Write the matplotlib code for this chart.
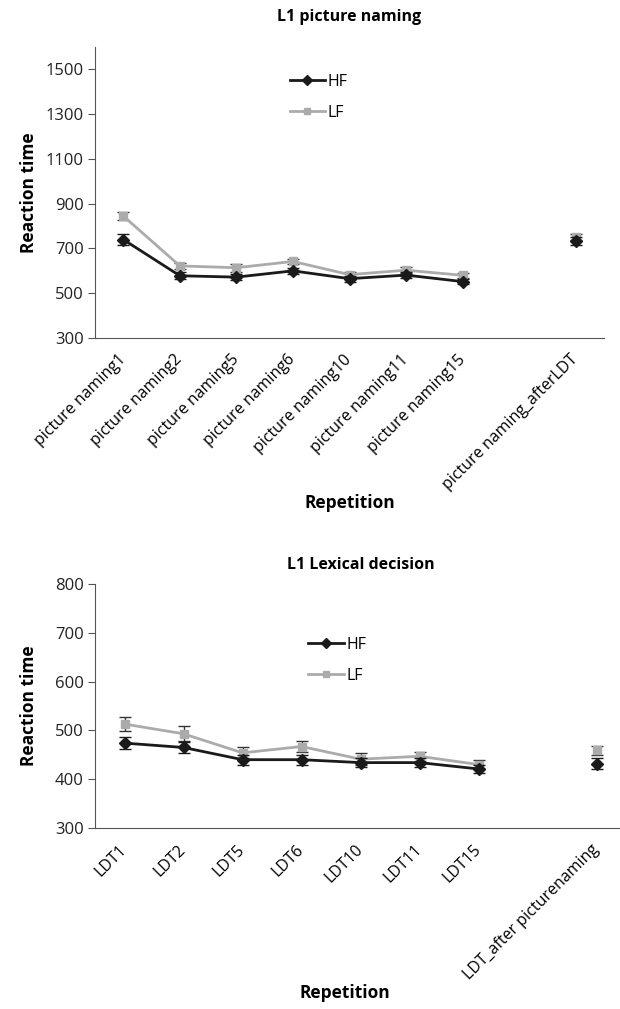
import matplotlib.pyplot as plt
import matplotlib.transforms as mtransforms
from matplotlib.lines import Line2D
import numpy as np

plt.rcParams['font.family'] = ['Open Sans', 'DejaVu Sans']

# data
pn_labels = ['picture naming1', 'picture naming2', 'picture naming5', 'picture naming6',
             'picture naming10', 'picture naming11', 'picture naming15', '',
             'picture naming_afterLDT']
pn_hf = [740, 578, 572, 600, 565, 581, 552, np.nan, 733]
pn_hf_err = [24, 16, 15, 12, 13, 14, 12, np.nan, 16]
pn_lf = [845, 622, 614, 642, 583, 603, 580, np.nan, 752]
pn_lf_err = [18, 14, 18, 12, 12, 12, 12, np.nan, 14]

ldt_labels = ['LDT1', 'LDT2', 'LDT5', 'LDT6', 'LDT10', 'LDT11', 'LDT15', '',
              'LDT_after picturenaming']
ldt_hf = [474, 465, 440, 440, 434, 434, 421, np.nan, 432]
ldt_hf_err = [12, 11, 10, 10, 9, 9, 9, np.nan, 11]
ldt_lf = [513, 493, 454, 467, 441, 447, 430, np.nan, 459]
ldt_lf_err = [14, 15, 11, 12, 12, 9, 9, np.nan, 9]

HF_COL = '#1a1a1a'
LF_COL = '#ababab'

W, H = 620, 1009
fig = plt.figure(figsize=(W / 100, H / 100), dpi=100)

def px_axes(left, top, right, bottom):
    return fig.add_axes([left / W, 1 - bottom / H, (right - left) / W, (bottom - top) / H])

def draw(ax, labels, hf, hf_err, lf, lf_err, ylim, yticks, title, title_pad, leg_anchor):
    x = np.arange(len(labels))
    ax.errorbar(x, hf, yerr=hf_err, color=HF_COL, marker='D', markersize=6,
                lw=2, ecolor=HF_COL, elinewidth=1, capsize=4, capthick=1, zorder=3)
    ax.errorbar(x, lf, yerr=lf_err, color=LF_COL, marker='s', markersize=6,
                lw=2, ecolor='#333333', elinewidth=1, capsize=4, capthick=1, zorder=2)
    ax.set_xlim(-0.5, len(labels) - 0.5)
    ax.set_ylim(*ylim)
    ax.set_yticks(yticks)
    ax.set_xticks(x)
    ax.set_xticklabels(labels, rotation=45, ha='right', va='center',
                       rotation_mode='anchor', fontsize=11.5)
    off = mtransforms.ScaledTranslation(0.05, 0, fig.dpi_scale_trans)
    for t in ax.get_xticklabels():
        t.set_transform(t.get_transform() + off)
    ax.tick_params(axis='x', length=0, pad=14)
    ax.tick_params(axis='y', length=5, direction='out', labelsize=12, pad=3,
                   color='#555555', labelcolor='#222222')
    for s in ['top', 'right']:
        ax.spines[s].set_visible(False)
    for s in ['left', 'bottom']:
        ax.spines[s].set_color('#555555')
    ax.set_title(title, fontsize=11.5, fontweight='bold', pad=title_pad)
    ax.set_ylabel('Reaction time', fontsize=12.5, fontweight='bold')
    ax.set_xlabel('Repetition', fontsize=12.5, fontweight='bold')
    handles = [Line2D([], [], color=HF_COL, marker='D', markersize=5, lw=2),
               Line2D([], [], color=LF_COL, marker='s', markersize=5, lw=2)]
    ax.legend(handles, ['HF', 'LF'], loc='upper left', bbox_to_anchor=leg_anchor,
              frameon=False, handlelength=2.2, handletextpad=0.15, labelspacing=0.95,
              fontsize=11.5, borderaxespad=0)

ax1 = px_axes(95, 47, 604, 338)
draw(ax1, pn_labels, pn_hf, pn_hf_err, pn_lf, pn_lf_err, (300, 1600),
     np.arange(300, 1600, 200), 'L1 picture naming', 19, (0.37, 0.93))
ax1.xaxis.set_label_coords(0.5, -0.535)
ax1.yaxis.set_label_coords(-0.112, 0.5)

ax2 = px_axes(95, 584, 626, 828)
draw(ax2, ldt_labels, ldt_hf, ldt_hf_err, ldt_lf, ldt_lf_err, (300, 800),
     np.arange(300, 801, 100), 'L1 Lexical decision', 11, (0.39, 0.81))
ax2.xaxis.set_label_coords(0.47, -0.64)
ax2.yaxis.set_label_coords(-0.107, 0.5)

fig.savefig('out.png', dpi=100)
